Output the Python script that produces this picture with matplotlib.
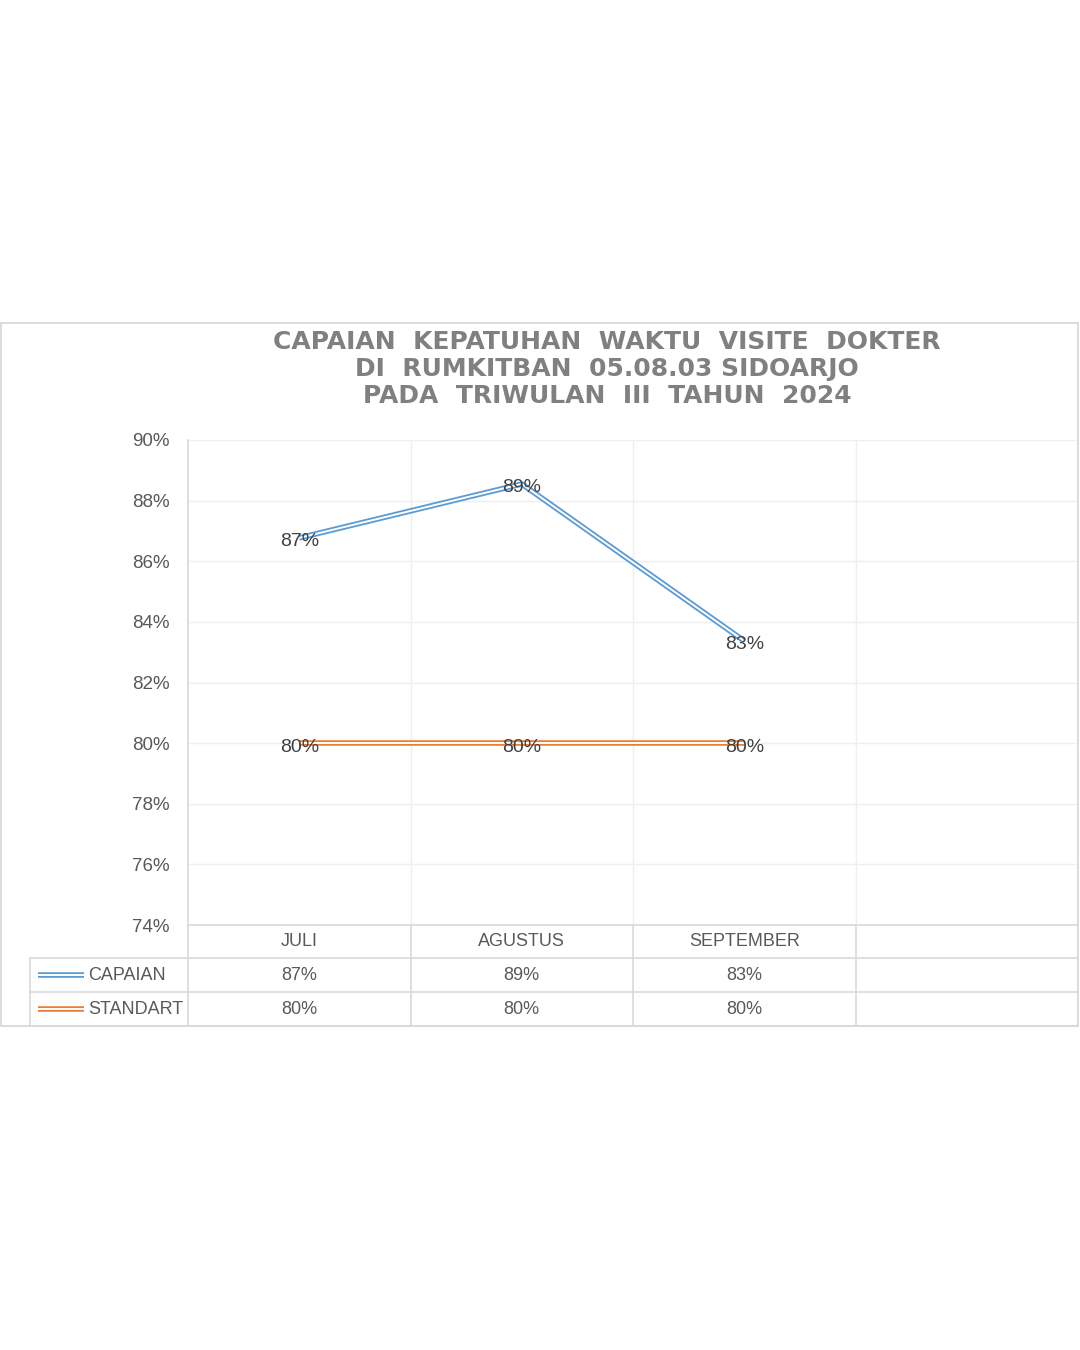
import numpy as np
import matplotlib.pyplot as plt
import matplotlib.transforms as mtransforms
from matplotlib.patches import Rectangle

# data
months = ["JULI", "AGUSTUS", "SEPTEMBER", ""]
capaian = [0.8677, 0.8855, 0.8337]
standart = [0.80, 0.80, 0.80]
yticks = [0.74, 0.76, 0.78, 0.80, 0.82, 0.84, 0.86, 0.88, 0.90]
series_names = ["CAPAIAN", "STANDART"]
title_lines = ["CAPAIAN  KEPATUHAN  WAKTU  VISITE  DOKTER",
               "DI  RUMKITBAN  05.08.03 SIDOARJO",
               "PADA  TRIWULAN  III  TAHUN  2024"]

blue = "#5b9bd5"
orange = "#ed7d31"
grid_c = "#efefef"
line_c = "#d9d9d9"
txt_c = "#595959"

plt.rcParams['font.family'] = ['Liberation Sans', 'DejaVu Sans']

W, H = 1080, 1350
fig = plt.figure(figsize=(W / 100, H / 100), dpi=100)
fig.patches.append(Rectangle((1 / W, 1 - 1026 / H), 1077 / W, 703 / H,
                             transform=fig.transFigure, fill=False,
                             ec=line_c, lw=1.3))

for i, t in enumerate(title_lines):
    fig.text(607 / W, 1 - (342 + 27 * i) / H, t, ha='center', va='center',
             fontsize=18, fontweight='bold', color='#808080',
             family=['DejaVu Sans'])

ax = fig.add_axes([188 / W, 1 - 925 / H, 890 / W, 485 / H])
ax.set_xlim(-0.5, len(months) - 0.5)
ax.set_ylim(yticks[0], yticks[-1])
ax.set_yticks(yticks)
ax.set_yticklabels([f"{v:.0%}" for v in yticks])
ax.set_xticks([])
ax.tick_params(axis='y', length=0, pad=13, labelsize=13.5, labelcolor=txt_c)
for s in ax.spines.values():
    s.set_visible(False)

for v in yticks[1:]:
    ax.axhline(v, color=grid_c, lw=1, zorder=0)
for k in range(1, len(months)):
    ax.axvline(k - 0.5, color=grid_c, lw=1, zorder=0)

x = np.arange(len(capaian))


def double_line(xs, ys, color, transform=None):
    kw = {} if transform is None else dict(transform=transform, clip_on=False)
    ax.plot(xs, ys, color=color, lw=4.0, solid_capstyle='butt', zorder=3, **kw)
    ax.plot(xs, ys, color='white', lw=1.4, solid_capstyle='butt', zorder=4, **kw)


double_line(x, capaian, blue)
double_line(x, standart, orange)

for vals in (capaian, standart):
    for xi, v in zip(x, vals):
        ax.annotate(f"{v:.0%}", (xi, v), xytext=(0, -4), textcoords='offset pixels',
                    ha='center', va='center', fontsize=14, color='#404040', zorder=5)

# data table under the axis
bt = mtransforms.blended_transform_factory(ax.transData, ax.transAxes)
rows = [0, -33 / 485, -67 / 485, -101 / 485]
left = (30 - 188) / 890

ax.plot([0, 1], [0, 0], transform=ax.transAxes, color=line_c, lw=1.2, clip_on=False)
ax.plot([0, 0], [1, rows[-1]], transform=ax.transAxes, color=line_c, lw=1.2, clip_on=False)
for r in rows[1:]:
    ax.plot([left, 1], [r, r], transform=ax.transAxes, color=line_c, lw=1.2, clip_on=False)
ax.plot([left, left], [rows[1], rows[-1]], transform=ax.transAxes, color=line_c,
        lw=1.2, clip_on=False)
for k in range(1, len(months)):
    ax.plot([k - 0.5, k - 0.5], [0, rows[-1]], transform=bt, color=line_c,
            lw=1.2, clip_on=False)

for k, m in enumerate(months):
    ax.text(k, (rows[0] + rows[1]) / 2, m, transform=bt, ha='center', va='center',
            fontsize=13, color=txt_c)

for j, (name, vals, col) in enumerate(zip(series_names, (capaian, standart), (blue, orange))):
    yc = (rows[j + 1] + rows[j + 2]) / 2
    lx = [(38 - 188) / 890, (84 - 188) / 890]
    double_line(lx, [yc, yc], col, transform=ax.transAxes)
    ax.text((88 - 188) / 890, yc, name, transform=ax.transAxes, ha='left', va='center',
            fontsize=13, color=txt_c)
    for xi, v in zip(x, vals):
        ax.text(xi, yc, f"{v:.0%}", transform=bt, ha='center', va='center',
                fontsize=13, color=txt_c)

fig.savefig("out.png", dpi=100)
